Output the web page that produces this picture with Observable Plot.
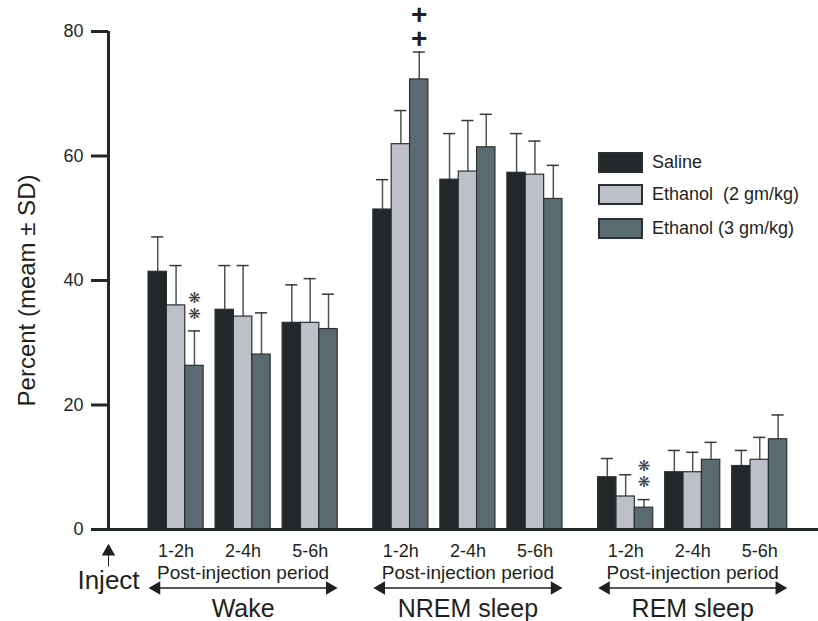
<!DOCTYPE html>
<html><head><meta charset="utf-8">
<script src="https://cdn.jsdelivr.net/npm/d3@7"></script>
<script src="https://cdn.jsdelivr.net/npm/@observablehq/plot@0.6"></script>
<style>
body{margin:0;background:#fff;}
#wrap{position:relative;width:818px;height:621px;font-family:"Liberation Sans",Arial,sans-serif;}
.leg{position:absolute;left:598px;display:flex;align-items:center;font-size:18px;color:#231f20;white-space:pre;}
.sw{box-sizing:border-box;width:45px;height:21px;border:2px solid #2a2f31;margin-right:9px;}
</style></head><body><div id="wrap"></div>
<script>
const categories = ["Wake", "NREM sleep", "REM sleep"];
const periods = ["1-2h", "2-4h", "5-6h"];
const series = ["Saline", "Ethanol  (2 gm/kg)", "Ethanol (3 gm/kg)"];
const colors = ["#22282a", "#bdc0c6", "#5b6970"];
// values ordered Wake(1-2h,2-4h,5-6h), NREM(...), REM(...)
const salineMean = [41.4, 35.3, 33.2, 51.4, 56.2, 57.3, 8.4, 9.2, 10.2];
const eth2Mean   = [36.0, 34.2, 33.2, 61.9, 57.5, 57.0, 5.3, 9.2, 11.2];
const eth3Mean   = [26.3, 28.1, 32.2, 72.3, 61.4, 53.1, 3.5, 11.2, 14.5];
const salineSD   = [5.6, 7.1, 6.1, 4.8, 7.4, 6.3, 3.0, 3.5, 2.5];
const eth2SD     = [6.4, 8.2, 7.1, 5.4, 8.2, 5.4, 3.5, 3.2, 3.6];
const eth3SD     = [5.6, 6.7, 5.6, 4.4, 5.3, 5.4, 1.3, 2.8, 3.9];
const yTicks = [0, 20, 40, 60, 80];
const yLabel = "Percent (meam ± SD)";
const groupLabel = "Post-injection period";
const injectLabel = "Inject";
const annotations = [
  {category: "Wake", period: "1-2h", series: 2, mark: "❋"},
  {category: "REM sleep", period: "1-2h", series: 2, mark: "❋"},
  {category: "NREM sleep", period: "1-2h", series: 2, mark: "+"}
];

// layout in bar-width units
const catStep = 12.24, periodStep = 3.65, capHalf = 0.33;
const xMin = -2.18, xMax = 36.48;
const means = [salineMean, eth2Mean, eth3Mean];
const sds = [salineSD, eth2SD, eth3SD];

const rows = [];
categories.forEach((c, ci) => periods.forEach((p, pi) => series.forEach((s, si) => {
  const k = ci * 3 + pi;
  const x1 = ci * catStep + pi * periodStep + si;
  const v = means[si][k], sd = sds[si][k];
  rows.push({category: c, period: p, series: s, si, value: v, top: v + sd,
             x1, x2: x1 + 1, xc: x1 + 0.5, cl: x1 + 0.5 - capHalf, cr: x1 + 0.5 + capHalf});
})));
const periodRows = [];
categories.forEach((c, ci) => periods.forEach((p, pi) => {
  periodRows.push({label: p, x: ci * catStep + pi * periodStep + 1.5});
}));
const catRows = categories.map((c, ci) => ({
  label: c, start: ci * catStep, end: ci * catStep + 2 * periodStep + 3,
  mid: ci * catStep + periodStep + 1.5
}));
const annRows = annotations.map(a => {
  const r = rows.find(r => r.category === a.category && r.period === a.period && r.si === a.series);
  return {...a, x: r.xc, y: r.top};
});
const stars = annRows.filter(a => a.mark === "❋");
const pluses = annRows.filter(a => a.mark === "+");

const ink = "#231f20", axisCol = "#222829";

const chart = Plot.plot({
  width: 818, height: 621,
  marginLeft: 108, marginRight: 0, marginTop: 31, marginBottom: 92,
  style: {fontFamily: "'Liberation Sans', Arial, sans-serif", color: axisCol, background: "#fff"},
  x: {type: "linear", domain: [xMin, xMax], axis: null},
  y: {domain: [0, 80], axis: null},
  color: {domain: series, range: colors},
  marks: [
    Plot.ruleX(rows, {x: "xc", y1: "value", y2: "top", stroke: "#4d5356", strokeWidth: 1.5}),
    Plot.ruleY(rows, {y: "top", x1: "cl", x2: "cr", stroke: "#34393c", strokeWidth: 1.5}),
    Plot.rect(rows, {x1: "x1", x2: "x2", y1: 0, y2: "value", fill: "series", stroke: "#2b3134", strokeWidth: 1.2}),
    Plot.axisY({ticks: yTicks, tickSize: 17, tickPadding: 8, strokeWidth: 3, fontSize: 18, label: null, stroke: axisCol, fill: axisCol}),
    Plot.ruleX([xMin], {y1: 0, y2: 80, stroke: axisCol, strokeWidth: 3}),
    Plot.ruleY([0], {stroke: axisCol, strokeWidth: 3}),
    Plot.text([yLabel], {text: d => d, frameAnchor: "left", textAnchor: "middle", rotate: -90, dx: -81, dy: 10, fontSize: 24, fill: ink}),
    Plot.text(periodRows, {x: "x", y: 0, text: "label", dy: 21.5, fontSize: 18, fill: ink}),
    Plot.text(catRows, {x: "mid", y: 0, text: () => groupLabel, dy: 43.5, fontSize: 19, fill: ink}),
    Plot.text(catRows, {x: "mid", y: 0, text: "label", dy: 79, fontSize: 25, fill: ink}),
    Plot.ruleY(catRows, {x1: "start", x2: "end", y: 0, dy: 58.4, stroke: ink, strokeWidth: 1.5, insetLeft: 5, insetRight: 5}),
    Plot.dot(catRows, {x: "start", y: 0, symbol: "triangle", r: 5, rotate: -90, dx: 7.8, dy: 58.4, fill: ink, stroke: null}),
    Plot.dot(catRows, {x: "end", y: 0, symbol: "triangle", r: 5, rotate: 90, dx: -7.8, dy: 58.4, fill: ink, stroke: null}),
    Plot.text([injectLabel], {x: xMin, y: 0, text: d => d, dy: 51, fontSize: 26, fill: ink}),
    Plot.dot([injectLabel], {x: xMin, y: 0, symbol: "triangle", r: 5, dy: 22, fill: ink, stroke: null}),
    Plot.ruleX([injectLabel], {x: xMin, y1: 0, y2: 0, insetTop: 26, insetBottom: -37.5, stroke: ink, strokeWidth: 1}),
    Plot.text(stars, {x: "x", y: "y", text: "mark", dy: -17, fontSize: 15, fontFamily: "DejaVu Sans", fill: "#3a3a3a"}),
    Plot.text(stars, {x: "x", y: "y", text: "mark", dy: -33, fontSize: 15, fontFamily: "DejaVu Sans", fill: "#3a3a3a"}),
    Plot.text(pluses, {x: "x", y: "y", text: "mark", dy: -13, fontSize: 28, fontWeight: "bold", fill: ink}),
    Plot.text(pluses, {x: "x", y: "y", text: "mark", dy: -37, fontSize: 28, fontWeight: "bold", fill: ink})
  ]
});
const wrap = document.getElementById("wrap");
wrap.appendChild(chart);
const legTops = [152, 184, 218];
series.forEach((s, i) => {
  const d = document.createElement("div");
  d.className = "leg";
  d.style.top = legTops[i] + "px";
  const sw = document.createElement("div");
  sw.className = "sw";
  sw.style.background = colors[i];
  d.appendChild(sw);
  const t = document.createElement("span");
  t.textContent = s;
  d.appendChild(t);
  wrap.appendChild(d);
});
</script></body></html>
